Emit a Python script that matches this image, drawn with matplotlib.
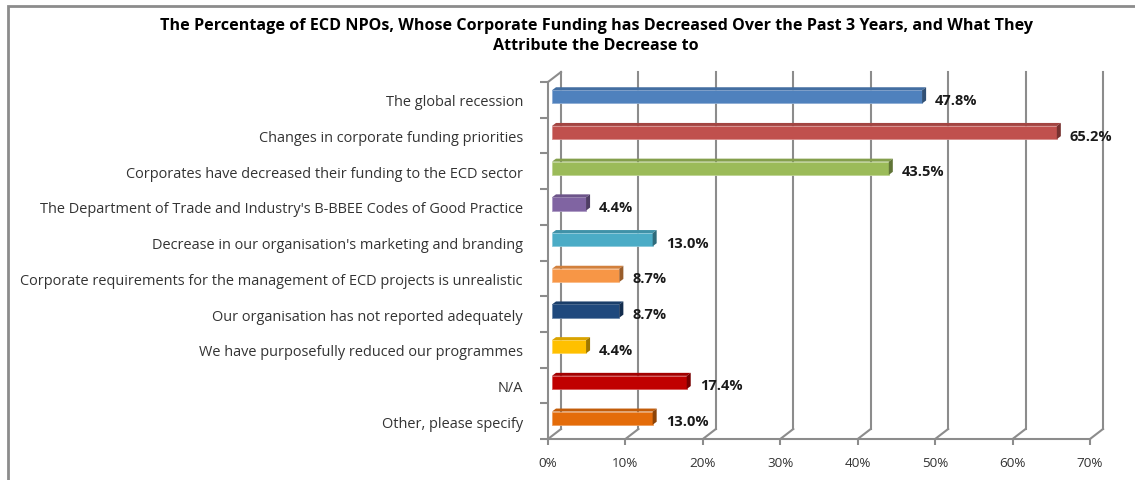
import matplotlib
matplotlib.use("Agg")
import matplotlib.pyplot as plt
from matplotlib.patches import Polygon, Rectangle
from matplotlib.colors import to_rgb

plt.rcParams['font.family'] = ['Open Sans', 'DejaVu Sans']

categories = [
    "The global recession",
    "Changes in corporate funding priorities",
    "Corporates have decreased their funding to the ECD sector",
    "The Department of Trade and Industry's B-BBEE Codes of Good Practice",
    "Decrease in our organisation's marketing and branding",
    "Corporate requirements for the management of ECD projects is unrealistic",
    "Our organisation has not reported adequately",
    "We have purposefully reduced our programmes",
    "N/A",
    "Other, please specify",
]
values = [47.8, 65.2, 43.5, 4.4, 13.0, 8.7, 8.7, 4.4, 17.4, 13.0]
bar_colors = ["#4F81BD", "#C0504D", "#9BBB59", "#8064A2", "#4BACC6",
              "#F79646", "#1F497D", "#FFC000", "#C00000", "#E46C0A"]
x_ticks = [0, 10, 20, 30, 40, 50, 60, 70]
x_ticklabels = ["0%", "10%", "20%", "30%", "40%", "50%", "60%", "70%"]
title = ("The Percentage of ECD NPOs, Whose Corporate Funding has Decreased Over the Past 3 Years, and What They\n"
         "Attribute the Decrease to")

W, H = 1135, 481
fig = plt.figure(figsize=(W / 100, H / 100), dpi=100)
fig.patch.set_facecolor("white")

# front plane of the plot area in pixel coordinates (top-left origin)
px_left, px_right, px_top, px_bottom = 548, 1090, 83, 440
ax = fig.add_axes([px_left / W, 1 - px_bottom / H,
                   (px_right - px_left) / W, (px_bottom - px_top) / H])
n = len(categories)
ax.set_xlim(0, 70)
ax.set_ylim(-0.5, n - 0.5)
ax.set_facecolor("none")

# pixel -> data unit conversion for the depth effect
ux = 70 / (px_right - px_left)
uy = n / (px_bottom - px_top)
depth_x, depth_y = 13 * ux, 10 * uy          # full depth of the back wall
bar_x0, bar_y0 = 4 * ux, 3 * uy              # front face of bars
bar_x1, bar_y1 = 8 * ux, 6 * uy              # back face of bars

grid_col = "#8C8C8C"

# back wall gridlines + floor diagonals
for t in x_ticks:
    ax.plot([t + depth_x, t + depth_x], [-0.5 + depth_y, n - 0.5 + depth_y],
            color=grid_col, lw=1.5, clip_on=False, zorder=1)
    ax.plot([t, t + depth_x], [-0.5, -0.5 + depth_y],
            color=grid_col, lw=1.5, clip_on=False, zorder=1)
# top of the left wall
ax.plot([0, depth_x], [n - 0.5, n - 0.5 + depth_y],
        color=grid_col, lw=1.5, clip_on=False, zorder=1)

ypos = [n - 1 - i for i in range(n)]
bh = 0.37


def shade(c, f):
    r, g, b = to_rgb(c)
    return (r * f, g * f, b * f)


def lighten(c, f):
    r, g, b = to_rgb(c)
    return (r + (1 - r) * f, g + (1 - g) * f, b + (1 - b) * f)


for y, v, c in zip(ypos, values, bar_colors):
    y0 = y - bh / 2 + bar_y0
    y1 = y + bh / 2 + bar_y0
    xl = bar_x0
    xr = v + bar_x0
    # front face
    ax.add_patch(Rectangle((xl, y0), xr - xl, y1 - y0, facecolor=c,
                           edgecolor=lighten(c, 0.35), lw=0.6, zorder=3))
    # top face
    ddx, ddy = bar_x1 - bar_x0, bar_y1 - bar_y0
    ax.add_patch(Polygon([(xl, y1), (xr, y1), (xr + ddx, y1 + ddy), (xl + ddx, y1 + ddy)],
                         closed=True, facecolor=shade(c, 0.85), edgecolor="none", zorder=3))
    # right side face
    ax.add_patch(Polygon([(xr, y0), (xr + ddx, y0 + ddy), (xr + ddx, y1 + ddy), (xr, y1)],
                         closed=True, facecolor=shade(c, 0.62), edgecolor="none", zorder=3))
    # value label
    ax.text(v + 17 * ux, y, f"{v:.1f}%", va="center", ha="left",
            fontsize=10.5, fontweight="bold", color="#1a1a1a", zorder=4)

# axes: front spines with ticks
for s in ["top", "right"]:
    ax.spines[s].set_visible(False)
for s in ["left", "bottom"]:
    ax.spines[s].set_color(grid_col)
    ax.spines[s].set_linewidth(1.5)

ax.set_xticks(x_ticks)
ax.set_xticklabels(x_ticklabels)
ax.tick_params(axis="x", direction="out", length=4, width=1.5, color=grid_col,
               pad=8, labelsize=9.7, labelcolor="#333333")

ax.set_yticks(ypos)
ax.set_yticklabels(categories)
ax.tick_params(axis="y", which="major", length=0, pad=18, labelsize=10.45,
               labelcolor="#333333")
ax.set_yticks([k - 0.5 for k in range(n + 1)], minor=True)
ax.tick_params(axis="y", which="minor", direction="out", length=6, width=1.5,
               color=grid_col)

# chart title
fig.text(596 / W, 1 - 36 / H, title, ha="center", va="center", fontsize=11.6,
         fontweight="bold", color="#000000", linespacing=1.25)

# chart frame
fig.add_artist(Rectangle((8 / W, -0.05), 1.2, 1 - 7 / H + 0.05,
                         transform=fig.transFigure, facecolor="none",
                         edgecolor="#8C8C8C", lw=2))

fig.savefig("out.png", dpi=100)
